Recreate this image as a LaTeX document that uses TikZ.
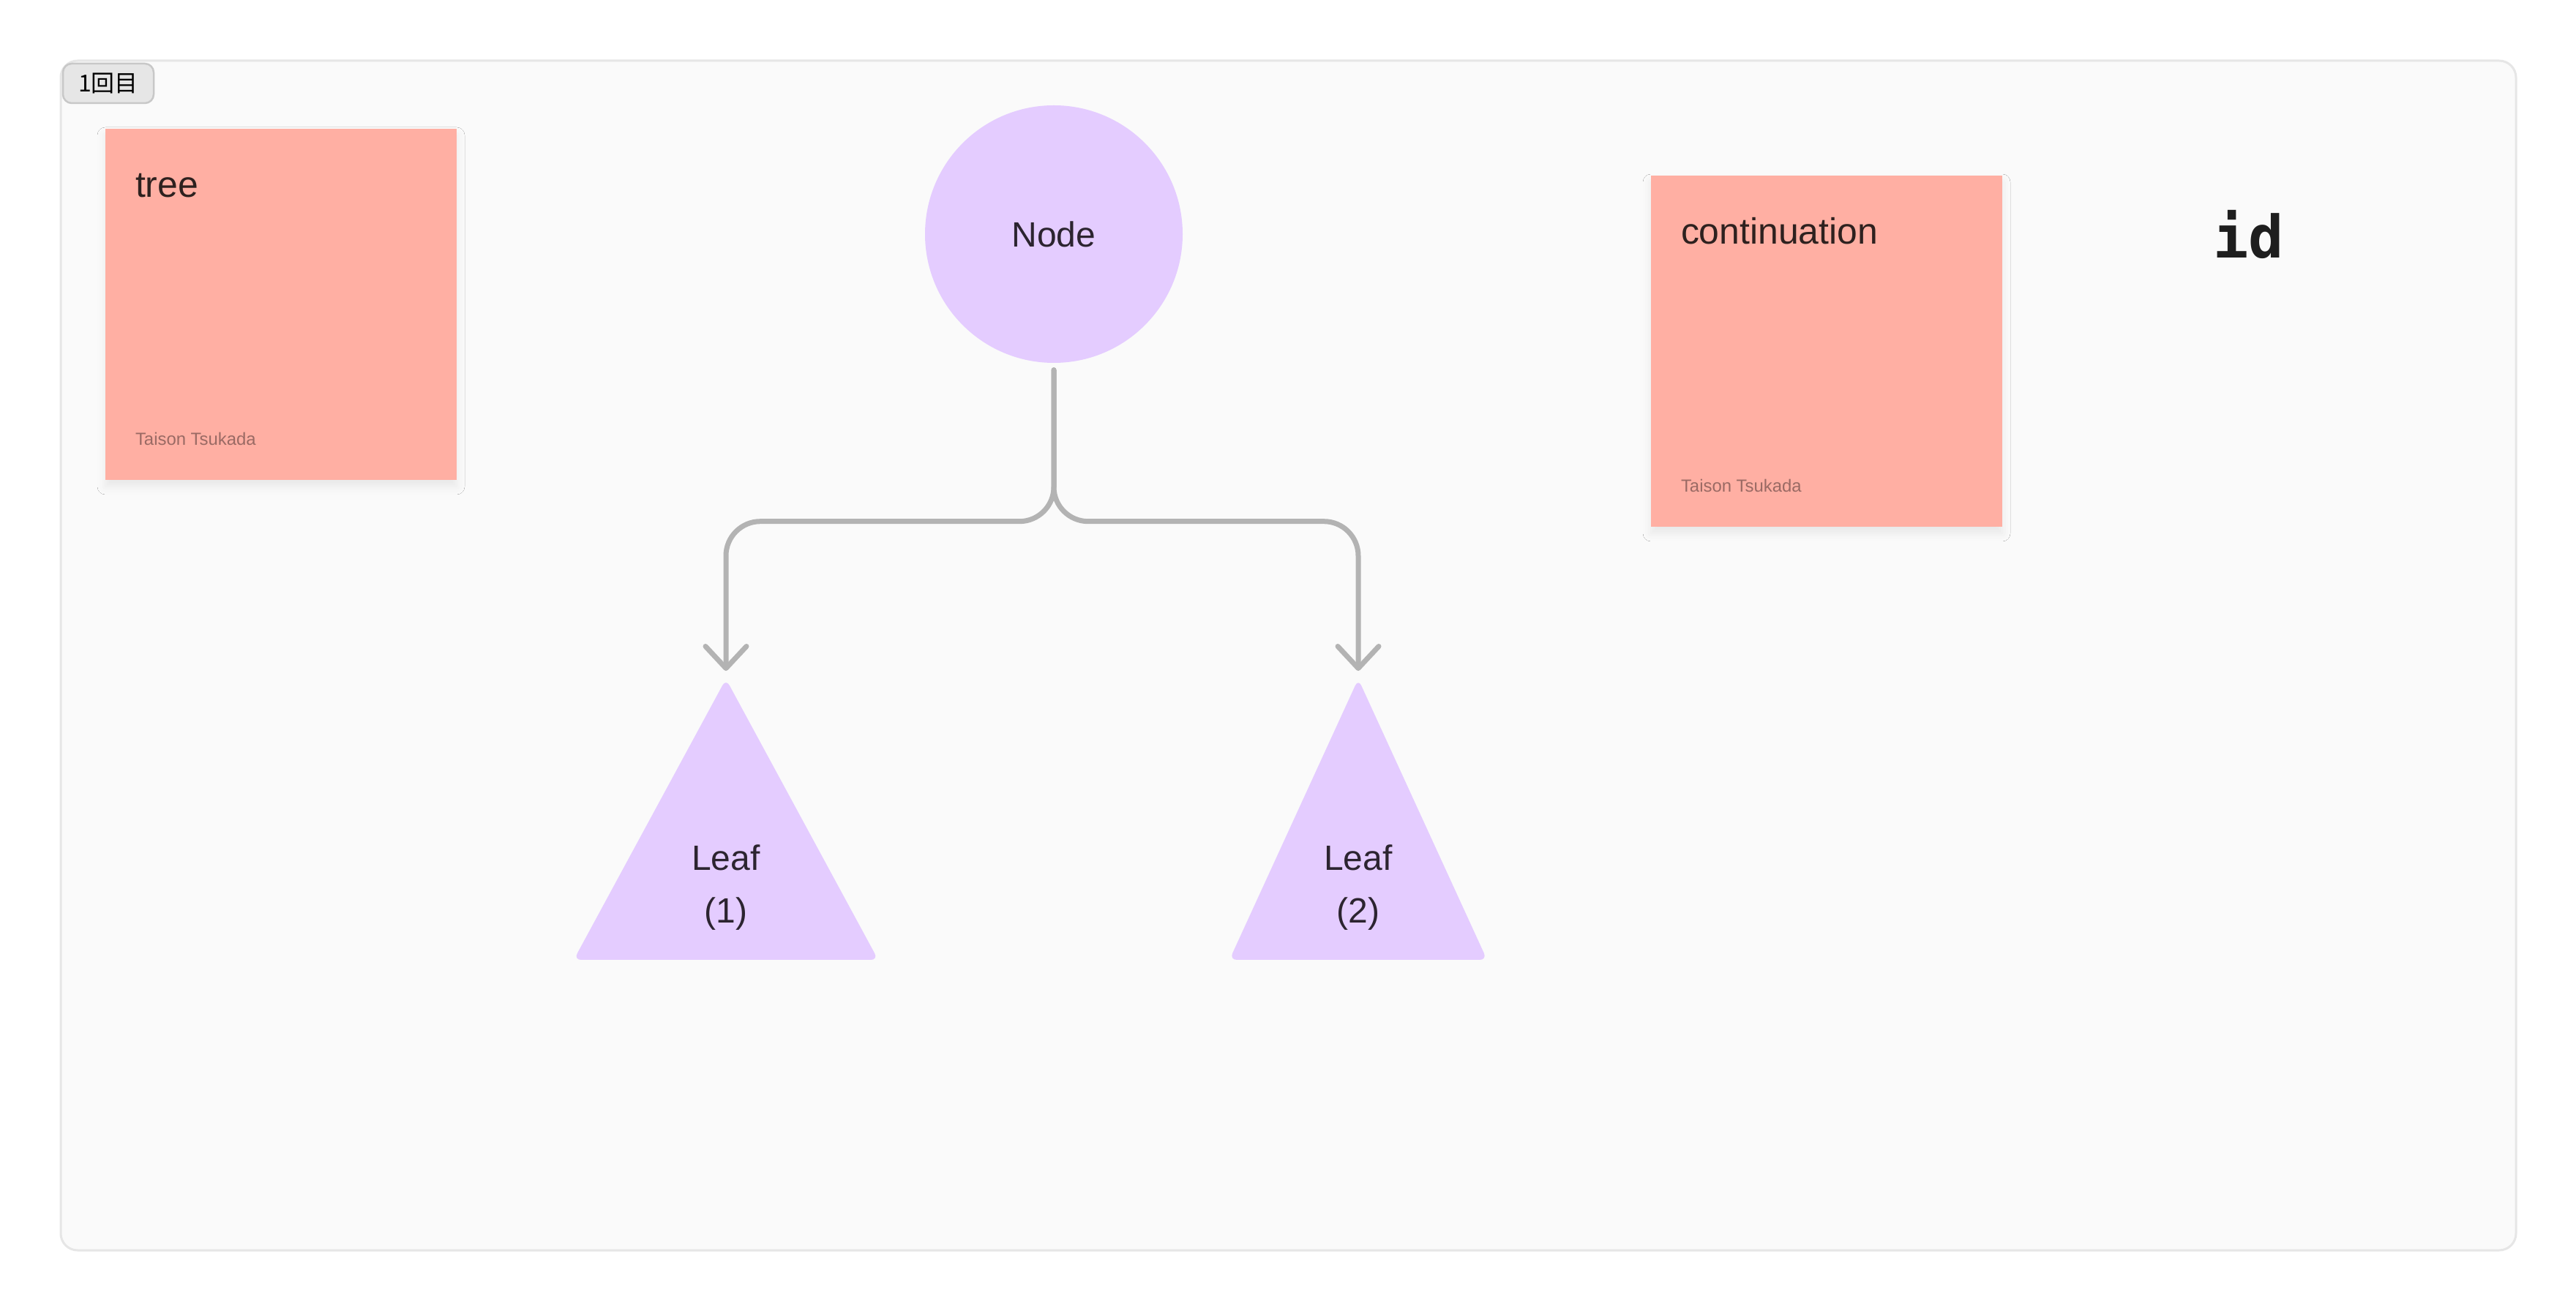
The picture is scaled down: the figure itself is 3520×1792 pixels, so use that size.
\documentclass[tikz,border=0pt]{standalone}
\usepackage{fontspec}
\setmainfont{Liberation Sans}
\setmonofont{DejaVu Sans Mono}
\newfontfamily\cjkfont{Noto Sans CJK JP}
\usetikzlibrary{arrows.meta,positioning,calc,shadows.blur}
\definecolor{stickycol}{HTML}{FFAFA3}
\definecolor{leafcol}{HTML}{E4CCFF}
\definecolor{linkcol}{HTML}{B3B3B3}
\definecolor{inkcol}{HTML}{2C2430}
\definecolor{stickyink}{HTML}{2E211F}
\definecolor{authcol}{HTML}{9A6A64}
\definecolor{framecol}{HTML}{E6E6E6}
\definecolor{boardcol}{HTML}{FAFAFA}
\definecolor{tagfill}{HTML}{E6E6E6}
\definecolor{tagline}{HTML}{C8C8C8}
\definecolor{idcol}{HTML}{1E1E1E}

\begin{document}
\begin{tikzpicture}[x=0.1mm,y=-0.1mm,
  sticky/.style={fill=stickycol,minimum size=48mm,inner sep=0pt,
    blur shadow={shadow xshift=0mm,shadow yshift=-0.9mm,
      shadow blur radius=1.1mm,shadow opacity=7}},
  stickytitle/.style={anchor=base west,inner sep=0pt,text=stickyink,
    font=\fontsize{14.2}{17}\selectfont},
  stickyauthor/.style={anchor=base west,inner sep=0pt,text=authcol,
    font=\fontsize{6.8}{8}\selectfont},
  shapetext/.style={text=inkcol,align=center,inner sep=0pt,
    font=\fontsize{13.66}{20.5}\selectfont},
  link/.style={linkcol,line width=0.7mm,line cap=round,rounded corners=4.7mm,
    -{Straight Barb[length=3mm,width=5.6mm,round]},
    shorten <=0.9mm,shorten >=1.1mm}]
  \useasboundingbox (0,0) rectangle (3520,1792);
  \fill[white] (0,0) rectangle (3520,1792);
  % board
  \draw[framecol,fill=boardcol,line width=0.3mm,rounded corners=2.3mm]
    (83,83) rectangle (3438,1709);
  \node[draw=tagline,fill=tagfill,rounded corners=1.2mm,line width=0.25mm,
    minimum width=12.4mm,minimum height=5.4mm,inner sep=0pt,
    font=\cjkfont\fontsize{9.1}{10}\selectfont] (round) at (148,114) {1回目};

  % sticky notes
  \node[sticky] (tree) at (384,416) {};
  \node[stickytitle] (treetitle) at ($(tree.north west)+(41,94)$) {tree};
  \node[stickyauthor] (treeauthor) at ($(tree.south west)+(41,-48)$) {Taison Tsukada};
  \node[sticky] (cont) at (2496,480) {};
  \node[stickytitle] (conttitle) at ($(cont.north west)+(41,94)$) {continuation};
  \node[stickyauthor] (contauthor) at ($(cont.south west)+(41,-48)$) {Taison Tsukada};

  \node[anchor=base west,inner sep=0pt,text=idcol,
    font=\ttfamily\bfseries\fontsize{22.8}{27}\selectfont] (idtag) at (3024,353) {id};

  % tree
  \node[circle,fill=leafcol,minimum size=35.2mm,inner sep=0pt,shapetext] (root)
    at (1440,320) {Node};
  \fill[leafcol,rounded corners=1mm] (992,928) -- (1200,1312) -- (784,1312) -- cycle;
  \fill[leafcol,rounded corners=1mm] (1856,928) -- (2032,1312) -- (1680,1312) -- cycle;
  \coordinate (topA) at (992,928);
  \coordinate (topB) at (1856,928);
  \node[shapetext,anchor=base] (leafA) at (992,1262) {Leaf\\(1)};
  \node[shapetext,anchor=base] (leafB) at (1856,1262) {Leaf\\(2)};

  \draw[link] (root.south) -- ++(0,216) -| (topA);
  \draw[link] (root.south) -- ++(0,216) -| (topB);
\end{tikzpicture}
\end{document}
